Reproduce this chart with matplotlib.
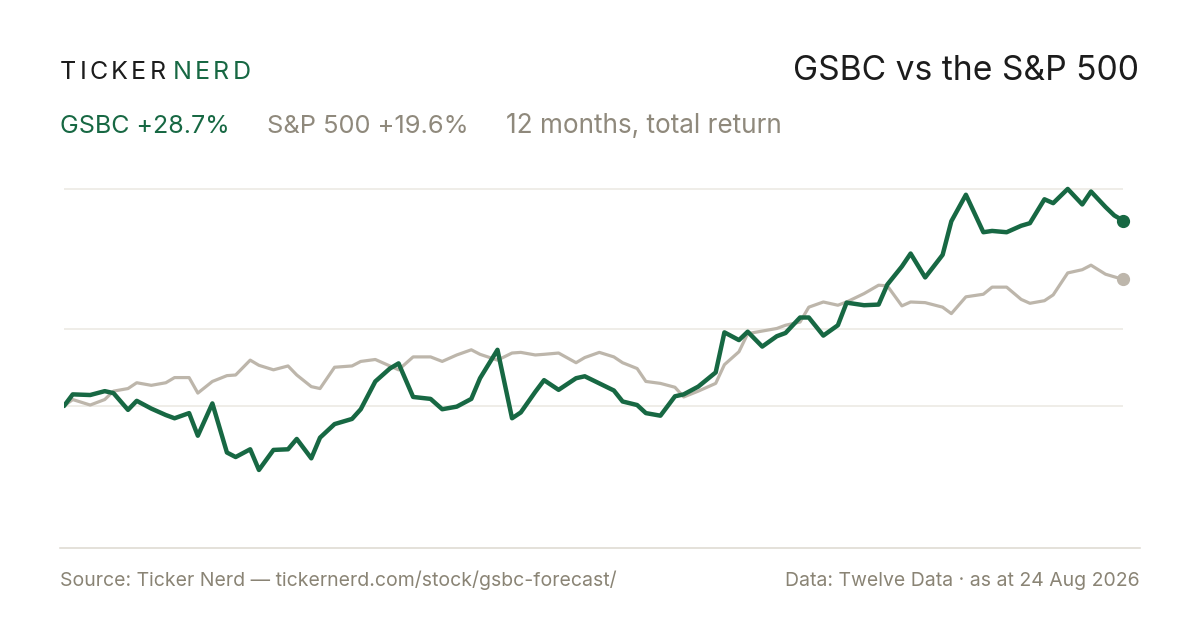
import matplotlib
matplotlib.use("Agg")
import matplotlib.pyplot as plt
import pandas as pd
from matplotlib.lines import Line2D

# ---------------- data ----------------
HOLIDAYS = ["2025-09-01", "2025-11-27", "2025-12-25", "2026-01-01", "2026-01-19",
            "2026-02-16", "2026-04-03", "2026-05-25", "2026-06-19", "2026-07-03"]
START, END = "2025-08-25", "2026-08-24"

# cumulative total return (%) sampled every 3rd trading day, plus the last day
gsbc = [0.0, 1.8, 1.7, 2.3, 2.0, -0.6, 0.8, -0.4, -1.4, -1.9,
        -1.1, -4.6, 0.4, -7.2, -7.9, -6.7, -9.9, -6.8, -6.7, -5.1,
        -8.1, -4.9, -2.8, -2.0, -0.5, 3.8, 5.8, 6.6, 1.4, 1.1,
        -0.5, -0.1, 1.1, 4.3, 8.7, -1.9, -1.0, 2.2, 4.0, 2.5,
        4.3, 4.6, 3.5, 2.4, 0.7, 0.15, -1.1, -1.5, 1.5, 1.8,
        3.0, 5.2, 11.4, 10.2, 11.5, 9.2, 10.8, 11.3, 13.7, 13.7,
        10.9, 12.5, 16.0, 15.6, 15.7, 18.8, 21.6, 23.6, 19.9, 23.4,
        28.6, 32.7, 26.9, 27.1, 26.9, 27.9, 28.3, 32.0, 31.4, 33.6,
        31.2, 33.2, 30.8, 29.5, 28.7]
spx = [0.0, 1.0, 0.15, 1.0, 2.3, 2.7, 3.6, 3.2, 3.6, 4.4,
       4.4, 2.0, 3.8, 4.7, 4.8, 7.1, 6.3, 5.6, 6.2, 4.8,
       3.0, 2.7, 6.0, 6.2, 6.9, 7.2, 6.2, 5.6, 7.6, 7.6,
       6.9, 7.9, 8.7, 8.0, 7.1, 8.2, 8.3, 7.9, 8.0, 8.2,
       6.7, 7.5, 8.3, 7.6, 6.7, 5.8, 3.8, 3.5, 2.9, 1.4,
       2.3, 3.5, 6.4, 8.4, 11.2, 11.6, 12.0, 12.5, 13.0, 15.3,
       16.1, 15.6, 16.1, 17.4, 18.7, 18.6, 15.5, 16.1, 16.0, 15.3,
       14.3, 16.9, 17.3, 18.4, 18.4, 16.5, 15.9, 16.3, 17.2, 20.6,
       21.1, 21.8, 20.4, 20.0, 19.6]

brand_left, brand_right = "TICKER", "NERD"
title = "GSBC vs the S&P 500"
label_gsbc = "GSBC +28.7%"
label_spx = "S&P 500 +19.6%"
label_period = "12 months, total return"
footer_left = "Source: Ticker Nerd \u2014 tickernerd.com/stock/gsbc-forecast/"
footer_right = "Data: Twelve Data \u00b7 as at 24 Aug 2026"

# trading-day calendar
cbd = pd.offsets.CustomBusinessDay(holidays=pd.to_datetime(HOLIDAYS))
trading = pd.date_range(START, END, freq=cbd)
dates = list(trading[::3])
if dates[-1] != trading[-1]:
    dates.append(trading[-1])
n = min(len(dates), len(gsbc), len(spx))
dates, gsbc, spx = dates[:n], gsbc[:n], spx[:n]

# ---------------- style ----------------
GREEN = "#176843"
SPX_C = "#bdb6ab"
GRID_C = "#ebe8e2"
RULE_C = "#dcd8cf"
DARK = "#1c1c1c"
GREY = "#8f897c"
FOOT = "#8a8475"
FONT = ["Inter", "DejaVu Sans"]
plt.rcParams["font.family"] = FONT

W, H = 1200, 630
fig = plt.figure(figsize=(W / 100, H / 100), dpi=100, facecolor="white")


def fx(x):
    return x / W


def fy(y):
    return 1 - y / H


# plot area
left_px, right_px = 64, 1123
top_px, bot_px = 150, 548
ax = fig.add_axes([fx(left_px), fy(bot_px), (right_px - left_px) / W, (bot_px - top_px) / H])
ax.set_facecolor("none")
ppu = 6.46  # pixels per percentage point
zero_px = 406
ax.set_ylim((zero_px - bot_px) / ppu, (zero_px - top_px) / ppu)
ax.set_xlim(dates[0], dates[-1])
for s in ax.spines.values():
    s.set_visible(False)
ax.set_xticks([])
ax.set_yticks([])

gmax, gmin = max(gsbc), min(gsbc)
for yv in [gmax, (gmax + gmin) / 2, 0.0]:
    ax.axhline(yv, color=GRID_C, lw=1.1, zorder=0)

ax.plot(dates, spx, color=SPX_C, lw=2.3, solid_joinstyle="round", solid_capstyle="round", zorder=2)
ax.plot(dates, gsbc, color=GREEN, lw=3.2, solid_joinstyle="round", solid_capstyle="round", zorder=3)
ax.plot([dates[-1]], [spx[-1]], "o", ms=8.5, color=SPX_C, clip_on=False, zorder=4)
ax.plot([dates[-1]], [gsbc[-1]], "o", ms=8.5, color=GREEN, clip_on=False, zorder=5)

# bottom rule
fig.add_artist(Line2D([fx(60), fx(1140)], [fy(548), fy(548)], color=RULE_C, lw=1.1))

# ---------------- texts ----------------
renderer = fig.canvas.get_renderer()


def spaced(x, y, s, color, size, tracking, weight="normal"):
    """draw text with letter spacing; returns right edge of last glyph in px"""
    cx = x
    for i, ch in enumerate(s):
        t = fig.text(fx(cx), fy(y), ch, color=color, fontsize=size, ha="left",
                     va="baseline", fontweight=weight)
        bb = t.get_window_extent(renderer)
        cx += bb.width + (tracking if i < len(s) - 1 else 0)
    return cx


r = spaced(60, 79, brand_left, DARK, 18, 3.2)
spaced(r + 7, 79, brand_right, GREEN, 18, 3.2)

fig.text(fx(1139), fy(80), title, color=DARK, fontsize=24.2, ha="right", va="baseline")

fig.text(fx(60), fy(133), label_gsbc, color=GREEN, fontsize=18.0, ha="left", va="baseline")
fig.text(fx(267), fy(133), label_spx, color=GREY, fontsize=18.3, ha="left", va="baseline")
fig.text(fx(506), fy(133), label_period, color=GREY, fontsize=18.8, ha="left", va="baseline")

fig.text(fx(60), fy(586), footer_left, color=FOOT, fontsize=14, ha="left", va="baseline")
fig.text(fx(1140), fy(586), footer_right, color=FOOT, fontsize=14, ha="right", va="baseline")

fig.savefig("out.png", dpi=100, facecolor="white")
